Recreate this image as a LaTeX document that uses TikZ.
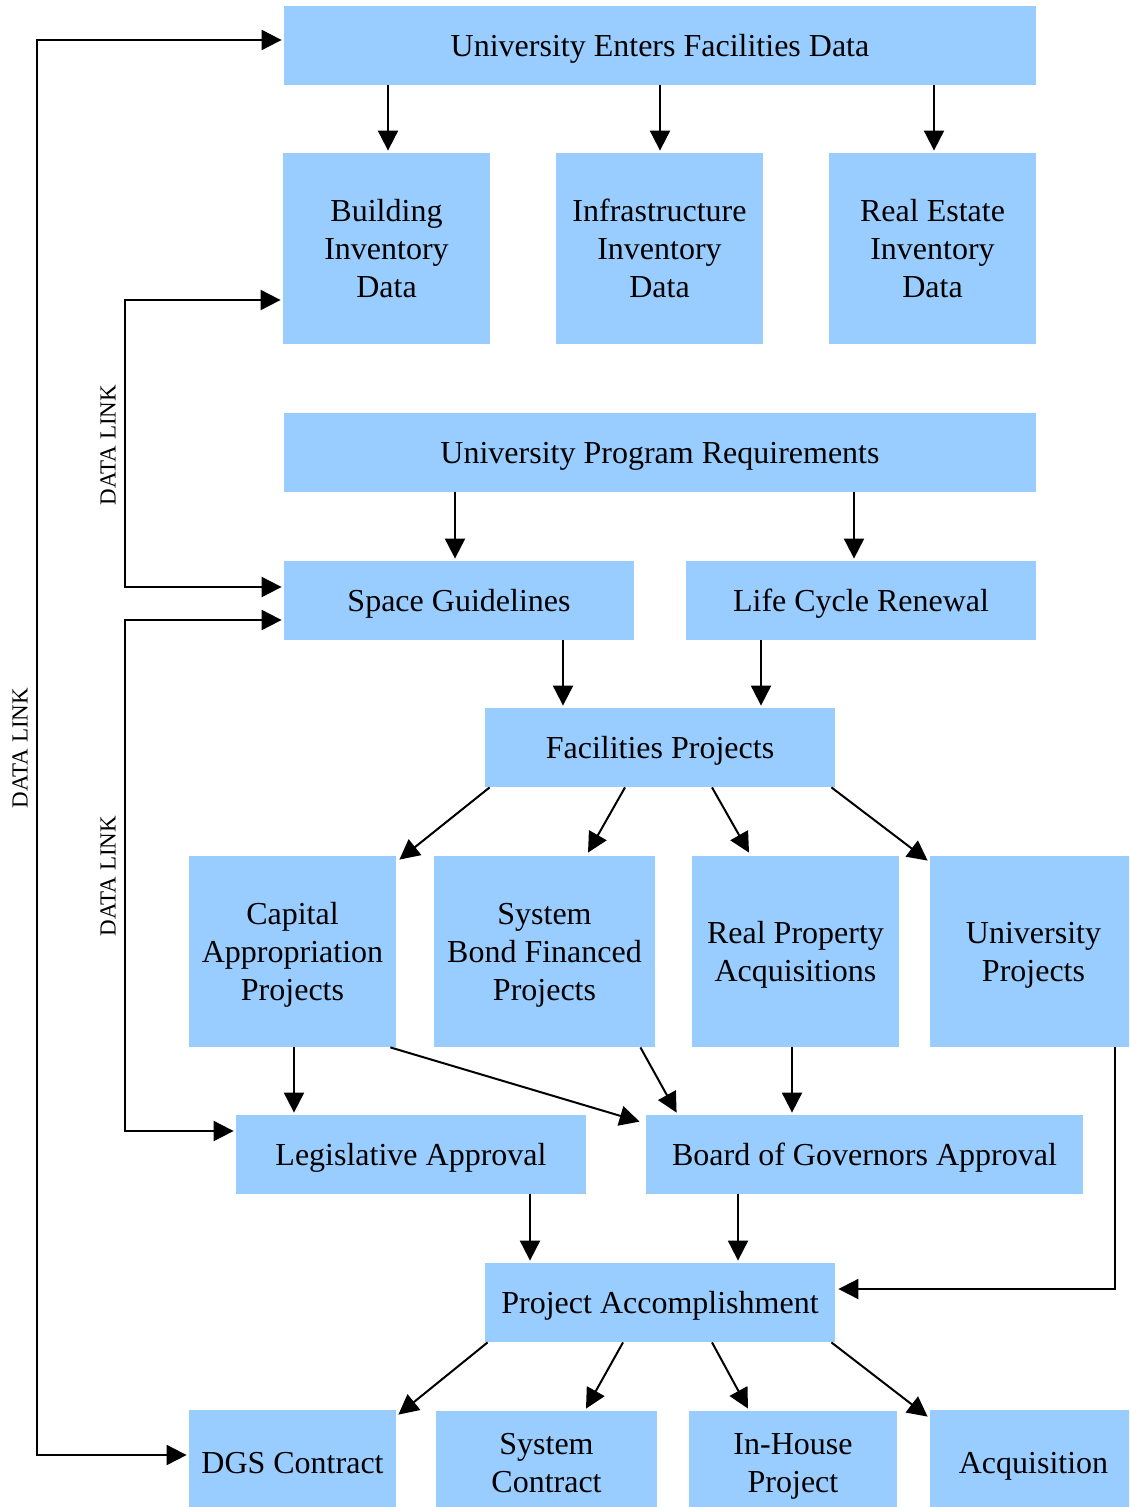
\documentclass[tikz,border=0pt]{standalone}
\usepackage{fontspec}
\setmainfont{Liberation Serif}
\usetikzlibrary{arrows.meta,calc}
\definecolor{boxblue}{HTML}{99CCFF}
\begin{document}
\begin{tikzpicture}[x=0.5pt,y=-0.5pt,
  box/.style={fill=boxblue,draw=none,inner sep=0pt,text depth=0pt,align=center,font=\fontsize{16}{19}\selectfont},
  arr/.style={-{Triangle[length=10pt,width=10pt]},line width=1pt},
  dbl/.style={{Triangle[length=10pt,width=10pt]}-{Triangle[length=10pt,width=10pt]},line width=1pt},
  lbl/.style={font=\fontsize{11.5}{13}\selectfont,rotate=90,inner sep=0pt}]
\useasboundingbox (0,0) rectangle (1129,1507);
\clip (0,0) rectangle (1129,1507);

% boxes
\node[box,minimum width=376pt,minimum height=39.5pt] (uefd) at (660,45.5) {University Enters Facilities Data};
\node[box,minimum width=103.5pt,minimum height=95.5pt] (bid) at (386.5,248.5) {Building\\Inventory\\Data};
\node[box,minimum width=103.5pt,minimum height=95.5pt] (iid) at (659.5,248.5) {Infrastructure\\Inventory\\Data};
\node[box,minimum width=103.5pt,minimum height=95.5pt] (reid) at (932.5,248.5) {Real Estate\\Inventory\\Data};
\node[box,minimum width=376pt,minimum height=39.5pt] (upr) at (660,452.5) {University Program Requirements};
\node[box,minimum width=175pt,minimum height=39.5pt] (sg) at (459,600.5) {Space Guidelines};
\node[box,minimum width=175pt,minimum height=39.5pt] (lcr) at (861,600.5) {Life Cycle Renewal};
\node[box,minimum width=175pt,minimum height=39.5pt] (fp) at (660,747.5) {Facilities Projects};
\node[box,minimum width=103.5pt,minimum height=95.5pt] (cap) at (292.5,951.5) {Capital\\Appropriation\\Projects};
\node[box,minimum width=110.5pt,minimum height=95.5pt] (sb) at (544.5,951.5) {System\\Bond Financed\\Projects};
\node[box,minimum width=103.5pt,minimum height=95.5pt] (rp) at (795.5,951.5) {Real Property\\Acquisitions};
\node[box,minimum width=103.5pt,minimum height=95.5pt] (up) at (1033.5,951.5) {University\\Projects};
\node[box,minimum width=175pt,minimum height=39.5pt] (leg) at (411,1154.5) {Legislative Approval};
\node[box,minimum width=218.5pt,minimum height=39.5pt] (bog) at (864.5,1154.5) {Board of Governors Approval};
\node[box,minimum width=175pt,minimum height=39.5pt] (pa) at (660,1302.5) {Project Accomplishment};
\node[box,minimum width=103.5pt,minimum height=52.5pt] (dgs) at (292.5,1462.5) {DGS Contract};
\node[box,minimum width=110.5pt,minimum height=52pt] (sc) at (546.5,1463) {System\\Contract};
\node[box,minimum width=104pt,minimum height=52pt] (ih) at (793,1463) {In-House\\Project};
\node[box,minimum width=103.5pt,minimum height=52.5pt] (acq) at (1033.5,1462.5) {Acquisition};

% labels
\node[lbl] (dl1) at (20,748) {DATA LINK};
\node[lbl] (dl2) at (108,445) {DATA LINK};
\node[lbl] (dl3) at (108,876) {DATA LINK};

% top fan
\draw[arr] ($(uefd.south -| bid.north)+(1.5,0)$) -- ($(bid.north)+(1.5,-2)$);
\draw[arr] ($(uefd.south -| iid.north)+(0.5,0)$) -- ($(iid.north)+(0.5,-2)$);
\draw[arr] ($(uefd.south -| reid.north)+(1.5,0)$) -- ($(reid.north)+(1.5,-2)$);

% requirements
\draw[arr] ($(upr.south -| sg.north)+(-4,0)$) -- ($(sg.north)+(-4,-2)$);
\draw[arr] ($(upr.south -| lcr.north)+(-7,0)$) -- ($(lcr.north)+(-7,-2)$);
\draw[arr] ($(sg.south -| fp.north)+(-97,0)$) -- ($(fp.north)+(-97,-2)$);
\draw[arr] ($(lcr.south -| fp.north)+(101,0)$) -- ($(fp.north)+(101,-2)$);

% facilities projects fan
\draw[arr] ($(fp.south west)+(5,0)$) -- ($(cap.north east)+(3,4)$);
\draw[arr] ($(fp.south)+(-35,0)$) -- ($(sb.north)+(43.5,-3)$);
\draw[arr] ($(fp.south)+(52,0)$) -- ($(rp.north)+(-46.5,-3)$);
\draw[arr] ($(fp.south east)+(-4,0)$) -- ($(up.north west)+(-2,5)$);

% approvals
\draw[arr] ($(cap.south)+(1.5,0)$) -- ($(cap.south |- leg.north)+(1.5,-2)$);
\draw[arr] ($(cap.south east)+(-6,0)$) -- ($(bog.north west)+(-6,7)$);
\draw[arr] ($(sb.south east)+(-15,0)$) -- ($(bog.north west)+(31,-2)$);
\draw[arr] ($(rp.south)+(-3.5,0)$) -- ($(rp.south |- bog.north)+(-3.5,-2)$);
\draw[arr] ($(up.south west)+(185,0)$) |- ($(pa.east)+(3,-13.5)$);

% accomplishment
\draw[arr] ($(leg.south)+(119,0)$) -- ($(pa.north)+(-130,-2)$);
\draw[arr] ($(bog.south)+(-126.5,0)$) -- ($(pa.north)+(78,-2)$);
\draw[arr] ($(pa.south west)+(3,0)$) -- ($(dgs.north east)+(2,5)$);
\draw[arr] ($(pa.south)+(-37,0)$) -- ($(sc.north)+(39.5,-2)$);
\draw[arr] ($(pa.south)+(52,0)$) -- ($(ih.north)+(-45,-2)$);
\draw[arr] ($(pa.south east)+(-4,0)$) -- ($(acq.north west)+(-2,7)$);

% data links
\draw[dbl] ($(uefd.west)+(-2,-5.5)$) -- ++(-245,0) |- ($(dgs.west)+(-2,-7.5)$);
\draw[dbl] ($(bid.west)+(-2,51.5)$) -- ++(-156,0) |- ($(sg.west)+(-2,-13.5)$);
\draw[dbl] ($(sg.west)+(-2,19.5)$) -- ++(-157,0) |- ($(leg.west)+(-2,-23.5)$);
\end{tikzpicture}
\end{document}
